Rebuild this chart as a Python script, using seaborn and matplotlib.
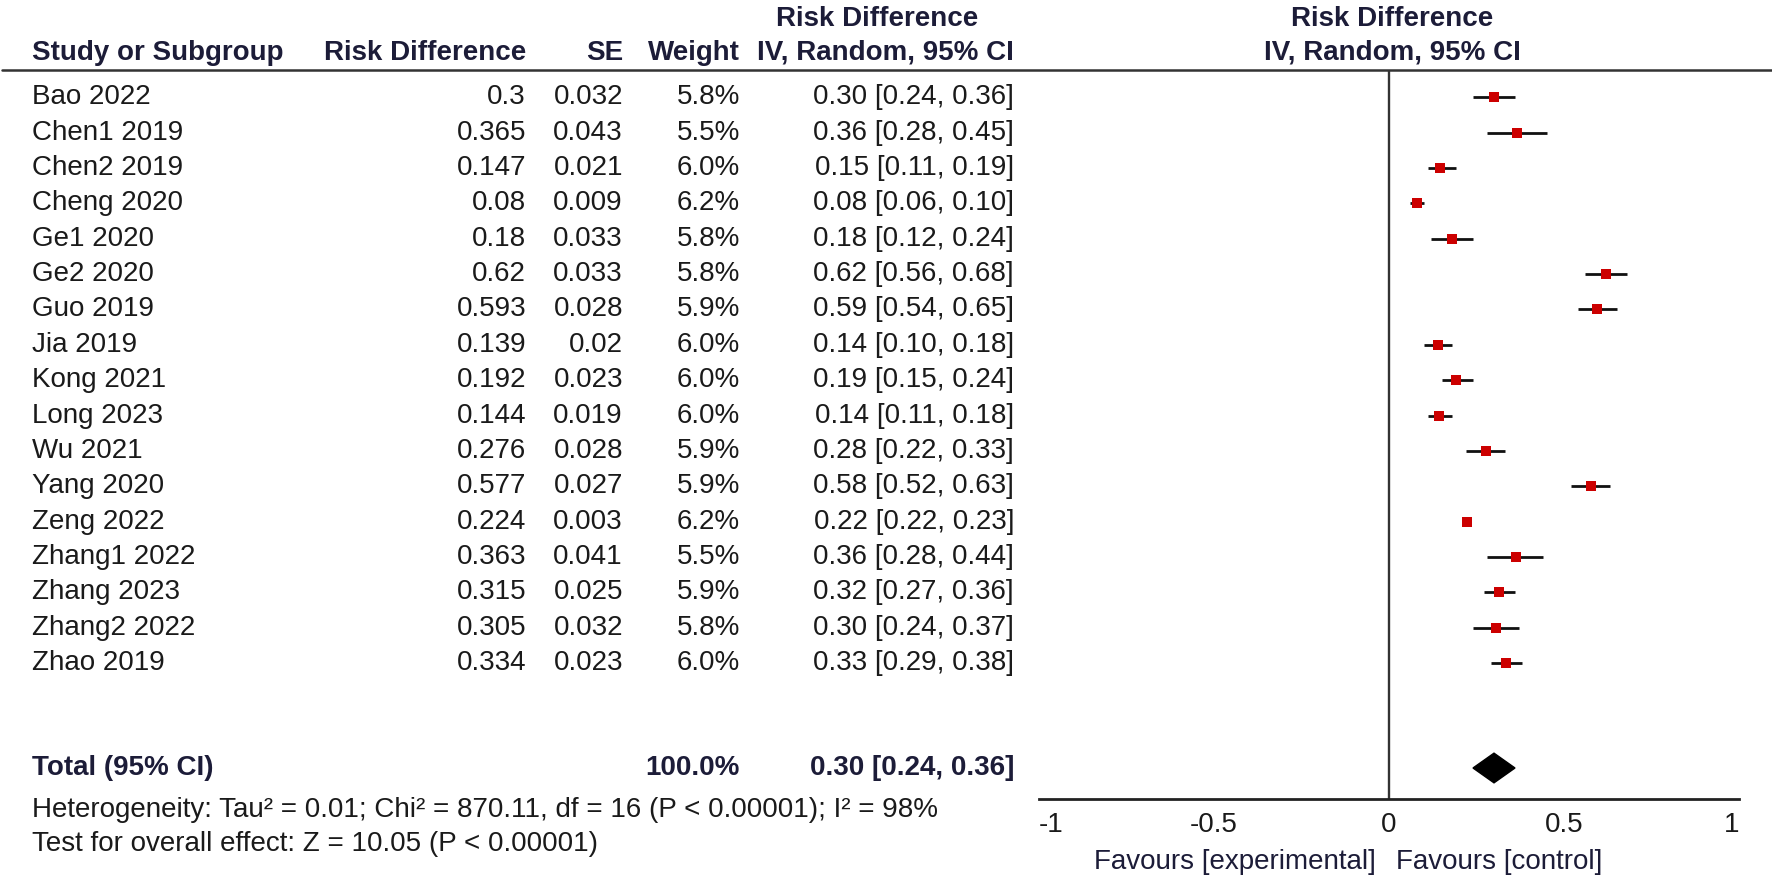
import numpy as np
import matplotlib
matplotlib.use("Agg")
import matplotlib.pyplot as plt
import seaborn as sns

studies = ["Bao 2022", "Chen1 2019", "Chen2 2019", "Cheng 2020", "Ge1 2020", "Ge2 2020",
           "Guo 2019", "Jia 2019", "Kong 2021", "Long 2023", "Wu 2021", "Yang 2020",
           "Zeng 2022", "Zhang1 2022", "Zhang 2023", "Zhang2 2022", "Zhao 2019"]
risk_diff = [0.3, 0.365, 0.147, 0.08, 0.18, 0.62, 0.593, 0.139, 0.192, 0.144,
             0.276, 0.577, 0.224, 0.363, 0.315, 0.305, 0.334]
se = [0.032, 0.043, 0.021, 0.009, 0.033, 0.033, 0.028, 0.02, 0.023, 0.019,
      0.028, 0.027, 0.003, 0.041, 0.025, 0.032, 0.023]
weight = [5.8, 5.5, 6.0, 6.2, 5.8, 5.8, 5.9, 6.0, 6.0, 6.0, 5.9, 5.9, 6.2, 5.5, 5.9, 5.8, 6.0]
ci_low = [0.24, 0.28, 0.11, 0.06, 0.12, 0.56, 0.54, 0.10, 0.15, 0.11, 0.22, 0.52, 0.22,
          0.28, 0.27, 0.24, 0.29]
ci_high = [0.36, 0.45, 0.19, 0.10, 0.24, 0.68, 0.65, 0.18, 0.24, 0.18, 0.33, 0.63, 0.23,
           0.44, 0.36, 0.37, 0.38]
total_weight = 100.0
total_est, total_low, total_high = 0.30, 0.24, 0.36
x_ticks = [-1, -0.5, 0, 0.5, 1]
heterogeneity = "Heterogeneity: Tau\u00b2 = 0.01; Chi\u00b2 = 870.11, df = 16 (P < 0.00001); I\u00b2 = 98%"
overall = "Test for overall effect: Z = 10.05 (P < 0.00001)"

sns.set_style("white")
plt.rcParams["font.family"] = ["Liberation Sans", "DejaVu Sans"]

W, H = 1772, 881
fig = plt.figure(figsize=(W / 100, H / 100), dpi=100)
FS = 20
TXT = "#1a1a1a"
HDR = "#1c1c38"

def fx(x):
    return x / W

def fy(y):
    return 1 - y / H

row0, step = 97.2, 35.37
row_y = [row0 + i * step for i in range(len(studies))]
total_y, het_y, test_y = 768, 810, 844

# header
bold = dict(va="center", fontsize=FS, fontweight="bold", color=HDR)
fig.text(fx(877), fy(19), "Risk Difference", ha="center", **bold)
fig.text(fx(1392), fy(19), "Risk Difference", ha="center", **bold)
hdr_y = 53
fig.text(fx(32), fy(hdr_y), "Study or Subgroup", ha="left", **bold)
fig.text(fx(526), fy(hdr_y), "Risk Difference", ha="right", **bold)
fig.text(fx(623), fy(hdr_y), "SE", ha="right", **bold)
fig.text(fx(740), fy(hdr_y), "Weight", ha="right", **bold)
fig.text(fx(1014), fy(hdr_y), "IV, Random, 95% CI", ha="right", **bold)
fig.text(fx(1392), fy(hdr_y), "IV, Random, 95% CI", ha="center", **bold)
fig.add_artist(plt.Line2D([fx(2), fx(W)], [fy(70), fy(70)], color="#333333", lw=1.8))

# study rows
norm = dict(va="center", fontsize=FS, color=TXT)
for i, name in enumerate(studies):
    y = fy(row_y[i])
    fig.text(fx(32), y, name, ha="left", **norm)
    fig.text(fx(526), y, f"{risk_diff[i]:g}", ha="right", **norm)
    fig.text(fx(623), y, f"{se[i]:g}", ha="right", **norm)
    fig.text(fx(740), y, f"{weight[i]:.1f}%", ha="right", **norm)
    fig.text(fx(1014), y, f"{risk_diff[i]:.2f} [{ci_low[i]:.2f}, {ci_high[i]:.2f}]", ha="right", **norm)

fig.text(fx(32), fy(total_y), "Total (95% CI)", ha="left", **bold)
fig.text(fx(740), fy(total_y), f"{total_weight:.1f}%", ha="right", **bold)
fig.text(fx(1014), fy(total_y), f"{total_est:.2f} [{total_low:.2f}, {total_high:.2f}]", ha="right", **bold)
fig.text(fx(32), fy(het_y), heterogeneity, ha="left", **norm)
fig.text(fx(32), fy(test_y), overall, ha="left", **norm)

# forest panel
x_left, x_right = 1039, 1739
y_top, y_axis = 70, 799
ax = fig.add_axes([fx(x_left), fy(y_axis), (x_right - x_left) / W, (y_axis - y_top) / H])
ax.set_xlim(-1, 1)
ax.set_ylim((y_axis - row0) / step, (y_top - row0) / step)
ax.patch.set_alpha(0)
ax.axvline(0, color="#333333", lw=1.7)

rows = np.arange(len(studies))
ax.hlines(rows, ci_low, ci_high, color="#111111", lw=2.0, zorder=2)
sns.scatterplot(x=risk_diff, y=rows, marker="s", color="#cc0000", s=45, linewidth=0, ax=ax, zorder=3)

t_row = (total_y - row0) / step
h = 0.42
ax.fill([total_low, total_est, total_high, total_est], [t_row, t_row - h, t_row, t_row + h],
        color="black", zorder=3)

for s in ["top", "left", "right"]:
    ax.spines[s].set_visible(False)
ax.spines["bottom"].set_color("#222222")
ax.spines["bottom"].set_linewidth(2.0)
ax.set_yticks([])
ax.set_xticks(x_ticks)
ax.set_xticklabels([f"{t:g}" for t in x_ticks])
ax.tick_params(axis="x", direction="inout", length=16, width=1.6, color="#222222",
               labelsize=FS, labelcolor=TXT, pad=1)
labels = ax.get_xticklabels()
labels[0].set_ha("left")
labels[-1].set_ha("right")

fig.text(fx(1376), fy(862), "Favours [experimental]", ha="right", va="center", fontsize=FS, color=HDR)
fig.text(fx(1396), fy(862), "Favours [control]", ha="left", va="center", fontsize=FS, color=HDR)

fig.savefig("out.png", dpi=100)
